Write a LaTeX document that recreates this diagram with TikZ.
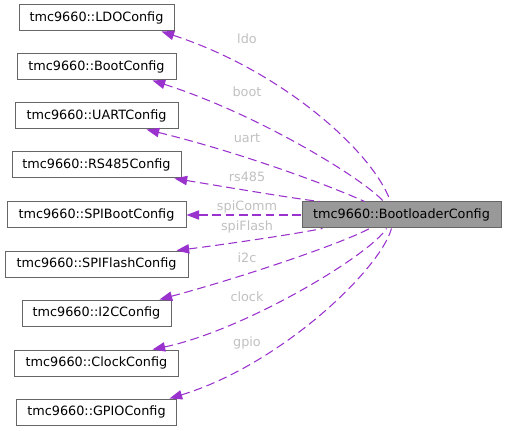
\documentclass[tikz,border=0pt]{standalone}
\usepackage{fontspec}
\setmainfont{DejaVu Sans}
\usetikzlibrary{arrows.meta,calc}
\definecolor{edgec}{HTML}{9A32CD}
\definecolor{lblc}{HTML}{C0C0C0}
\definecolor{boxc}{HTML}{666666}
\definecolor{fillc}{HTML}{999999}
\tikzset{
  cls/.style={draw=boxc, line width=0.75pt, fill=white, minimum height=19.5pt,
    minimum width=#1*0.75pt, inner sep=0pt, font=\fontsize{9.6}{11}\selectfont},
  rel/.style={draw=edgec, line width=0.8pt, dash pattern=on 6.5pt off 3.5pt,
    {Triangle[length=9.5pt,width=7pt,fill=edgec]}-},
  lbl/.style={text=lblc, inner sep=0pt, font=\fontsize{9.6}{11}\selectfont}
}
\begin{document}
\begin{tikzpicture}[x=0.75pt,y=-0.75pt]
\useasboundingbox (0,0) rectangle (507,431);
\node[cls=155] (ldo) at (96.5,18) {tmc9660::LDOConfig};
\node[cls=159] (boot) at (96.5,67) {tmc9660::BootConfig};
\node[cls=163] (uart) at (96.5,116) {tmc9660::UARTConfig};
\node[cls=169] (rs) at (96.5,165) {tmc9660::RS485Config};
\node[cls=179] (spib) at (96.5,215) {tmc9660::SPIBootConfig};
\node[cls=183] (spif) at (96.5,264) {tmc9660::SPIFlashConfig};
\node[cls=149] (i2c) at (96.5,313) {tmc9660::I2CConfig};
\node[cls=164] (clk) at (96.5,363) {tmc9660::ClockConfig};
\node[cls=160] (gpio) at (96.5,412) {tmc9660::GPIOConfig};
\node[cls=199, fill=fillc] (bl) at (401.5,215) {tmc9660::BootloaderConfig};

\draw[rel] ($(ldo.south west)+(143,0)$) .. controls (280,70) and (372,150) .. ($(bl.north west)+(89,0)$);
\draw[rel] ($(boot.south west)+(136,0)$) .. controls (260,115) and (365,180) .. ($(bl.north west)+(82,0)$);
\draw[rel] ($(uart.south west)+(132,0)$) .. controls (250,155) and (340,190) .. ($(bl.north west)+(63,0)$);
\draw[rel] ($(rs.south west)+(163,0)$) .. controls (220,186) and (290,198) .. ($(bl.north west)+(18,0)$);
\draw[rel] (spib.east) -- (bl.west);
\draw[rel] ($(spif.north west)+(172,0)$) .. controls (220,245) and (290,235) .. ($(bl.south west)+(21,0)$);
\draw[rel] ($(i2c.north west)+(138,0)$) .. controls (250,275) and (345,242) .. ($(bl.south west)+(68,0)$);
\draw[rel] ($(clk.north west)+(138.5,0)$) .. controls (245,330) and (370,255) .. ($(bl.south west)+(85,0)$);
\draw[rel] ($(gpio.north west)+(153.5,0)$) .. controls (280,365) and (380,270) .. ($(bl.south west)+(90,0)$);

\node[lbl] (l1) at (247,39) {ldo};
\node[lbl] (l2) at (247,92) {boot};
\node[lbl] (l3) at (247,138) {uart};
\node[lbl] (l4) at (247,177) {rs485};
\node[lbl] (l5) at (247,207) {spiComm};
\node[lbl] (l6) at (247,227) {spiFlash};
\node[lbl] (l7) at (247,258) {i2c};
\node[lbl] (l8) at (247,297) {clock};
\node[lbl] (l9) at (247,343) {gpio};
\end{tikzpicture}
\end{document}
